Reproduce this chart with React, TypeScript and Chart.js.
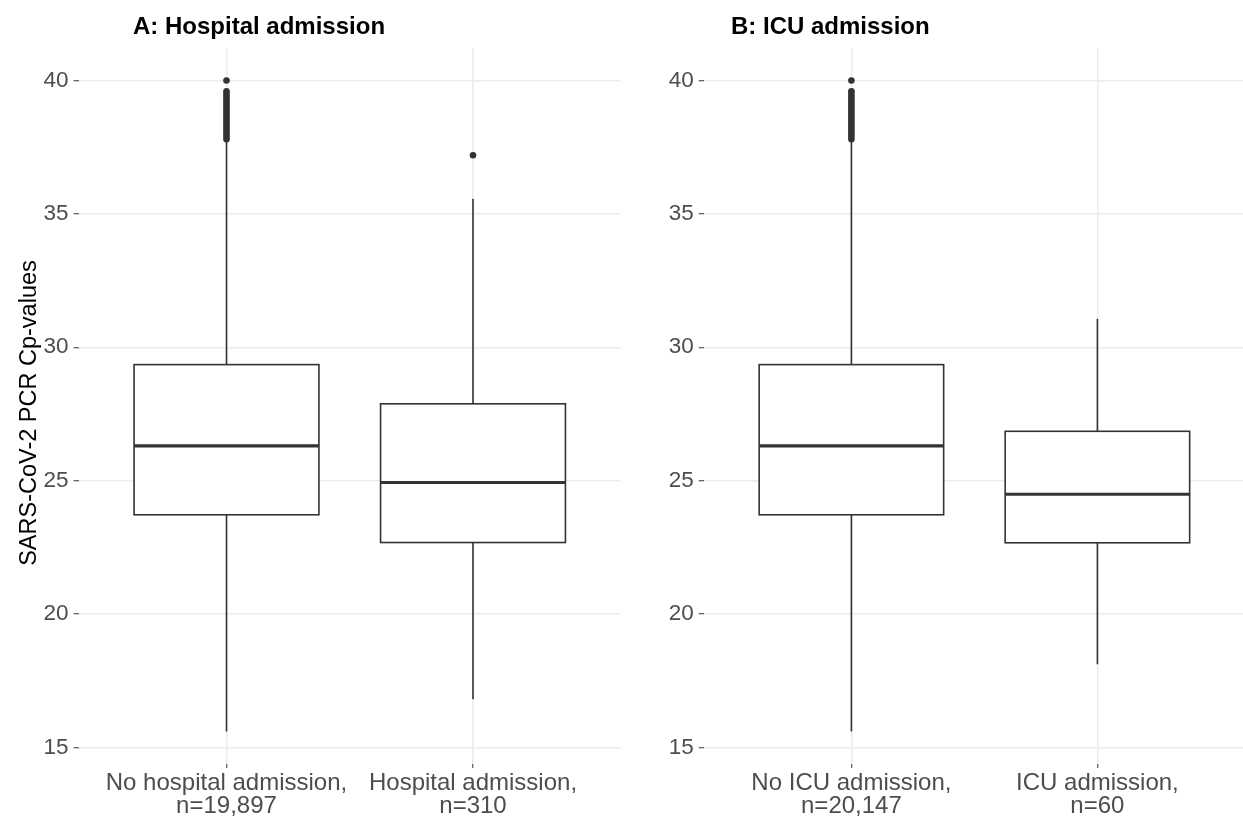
import React, { useEffect, useRef } from "react";
import { Chart, registerables } from "chart.js";
Chart.register(...registerables);

// ---- data ----
const panelTitles = ["A: Hospital admission", "B: ICU admission"];
const yAxisTitle = "SARS-CoV-2 PCR Cp-values";
const hospCategories = [["No hospital admission,", "n=19,897"], ["Hospital admission,", "n=310"]];
const icuCategories = [["No ICU admission,", "n=20,147"], ["ICU admission,", "n=60"]];
const yTicks = [15, 20, 25, 30, 35, 40];
const yLimits = [14.38, 41.22];
// box stats: [lower whisker, Q1, median, Q3, upper whisker]
const hospNoStats = [15.6, 23.72, 26.3, 29.35, 37.75];
const hospYesStats = [16.8, 22.68, 24.93, 27.88, 35.57];
const icuNoStats = [15.6, 23.72, 26.3, 29.35, 37.75];
const icuYesStats = [18.12, 22.67, 24.49, 26.85, 31.07];
const noAdmissionOutliers = [
  37.8, 37.9, 38.0, 38.1, 38.2, 38.3, 38.4, 38.5, 38.6, 38.7, 38.8, 38.9,
  39.0, 39.1, 39.2, 39.3, 39.4, 39.5, 39.6, 40.0,
];
const hospYesOutliers = [37.2];
const icuYesOutliers: number[] = [];

const FONT = "'Liberation Sans', Arial, sans-serif";
const INK = "#333333";
const CANVAS_H = 822;

type PanelProps = {
  title: string;
  categories: string[][];
  stats: number[][];
  outliers: number[][];
  canvasLeft: number;
  canvasWidth: number;
  yAxisWidth: number;
  padRight: number;
  titleX: number;
  showYTitle: boolean;
};

function Panel(p: PanelProps) {
  const ref = useRef<HTMLCanvasElement | null>(null);
  useEffect(() => {
    if (!ref.current) return;
    const points: { x: number; y: number }[] = [];
    p.outliers.forEach((arr, i) => arr.forEach((v) => points.push({ x: i + 1, y: v })));

    const boxPlugin = {
      id: "boxes",
      beforeDatasetsDraw(chart: any) {
        const ctx = chart.ctx;
        const xs = chart.scales.x;
        const ys = chart.scales.y;
        ctx.save();
        p.stats.forEach((s, i) => {
          const xc = xs.getPixelForValue(i + 1);
          const half = xs.getPixelForValue(i + 1 + 0.375) - xc;
          const [lo, q1, med, q3, hi] = s.map((v) => ys.getPixelForValue(v));
          ctx.strokeStyle = INK;
          ctx.lineWidth = 1.6;
          ctx.beginPath();
          ctx.moveTo(xc, q3);
          ctx.lineTo(xc, hi);
          ctx.moveTo(xc, q1);
          ctx.lineTo(xc, lo);
          ctx.stroke();
          ctx.fillStyle = "#ffffff";
          ctx.fillRect(xc - half, q3, 2 * half, q1 - q3);
          ctx.strokeRect(xc - half, q3, 2 * half, q1 - q3);
          ctx.lineWidth = 3.2;
          ctx.beginPath();
          ctx.moveTo(xc - half, med);
          ctx.lineTo(xc + half, med);
          ctx.stroke();
        });
        ctx.restore();
      },
    };

    const textPlugin = {
      id: "texts",
      afterDraw(chart: any) {
        const ctx = chart.ctx;
        ctx.save();
        ctx.fillStyle = "#000000";
        ctx.font = `bold 24px ${FONT}`;
        ctx.textBaseline = "middle";
        ctx.textAlign = "left";
        ctx.fillText(p.title, p.titleX, 27);
        if (p.showYTitle) {
          ctx.font = `23.5px ${FONT}`;
          ctx.translate(30, 413);
          ctx.rotate(-Math.PI / 2);
          ctx.textAlign = "center";
          ctx.fillText(yAxisTitle, 0, 0);
        }
        ctx.restore();
      },
    };

    const chart = new Chart(ref.current, {
      type: "scatter",
      data: {
        datasets: [
          {
            data: points,
            pointRadius: 3.3,
            pointBackgroundColor: INK,
            pointBorderWidth: 0,
            showLine: false,
          } as any,
        ],
      },
      options: {
        animation: false,
        responsive: false,
        devicePixelRatio: 1,
        layout: { padding: { top: 48, right: p.padRight, bottom: 0, left: 0 } },
        plugins: {
          legend: { display: false },
          tooltip: { enabled: false },
          title: { display: false },
        },
        scales: {
          x: {
            type: "linear",
            min: 0.4,
            max: 2.6,
            afterBuildTicks: (s: any) => {
              s.ticks = p.categories.map((_, i) => ({ value: i + 1 }));
            },
            ticks: {
              callback: (_v: any, i: number) => p.categories[i],
              color: "#4d4d4d",
              font: { family: FONT, size: 24, lineHeight: 0.96 },
              padding: 4,
              maxRotation: 0,
              autoSkip: false,
            },
            grid: { color: "#ebebeb", lineWidth: 1.5, tickColor: INK, tickLength: 4, tickWidth: 1 },
            border: { display: false },
          },
          y: {
            min: yLimits[0],
            max: yLimits[1],
            afterBuildTicks: (s: any) => {
              s.ticks = yTicks.map((v) => ({ value: v }));
            },
            afterFit: (s: any) => {
              s.width = p.yAxisWidth;
            },
            ticks: {
              color: "#4d4d4d",
              font: { family: FONT, size: 22.5 },
              padding: 5,
            },
            grid: { color: "#ebebeb", lineWidth: 1.5, tickColor: INK, tickLength: 5, tickWidth: 1 },
            border: { display: false },
          },
        },
      } as any,
      plugins: [boxPlugin, textPlugin],
    });
    return () => chart.destroy();
  }, []);
  return (
    <canvas
      ref={ref}
      width={p.canvasWidth}
      height={CANVAS_H}
      style={{ position: "absolute", left: p.canvasLeft, top: 0, width: p.canvasWidth, height: CANVAS_H }}
    />
  );
}

export default function App() {
  return (
    <div
      style={{
        position: "fixed",
        left: 0,
        top: 0,
        width: 1243,
        height: 818,
        overflow: "hidden",
        background: "#ffffff",
      }}
    >
      <Panel
        title={panelTitles[0]}
        categories={hospCategories}
        stats={[hospNoStats, hospYesStats]}
        outliers={[noAdmissionOutliers, hospYesOutliers]}
        canvasLeft={0}
        canvasWidth={640}
        yAxisWidth={78.6}
        padRight={19.1}
        titleX={133}
        showYTitle={true}
      />
      <Panel
        title={panelTitles[1]}
        categories={icuCategories}
        stats={[icuNoStats, icuYesStats]}
        outliers={[noAdmissionOutliers, icuYesOutliers]}
        canvasLeft={640}
        canvasWidth={609}
        yAxisWidth={63.8}
        padRight={1.8}
        titleX={91}
        showYTitle={false}
      />
    </div>
  );
}
